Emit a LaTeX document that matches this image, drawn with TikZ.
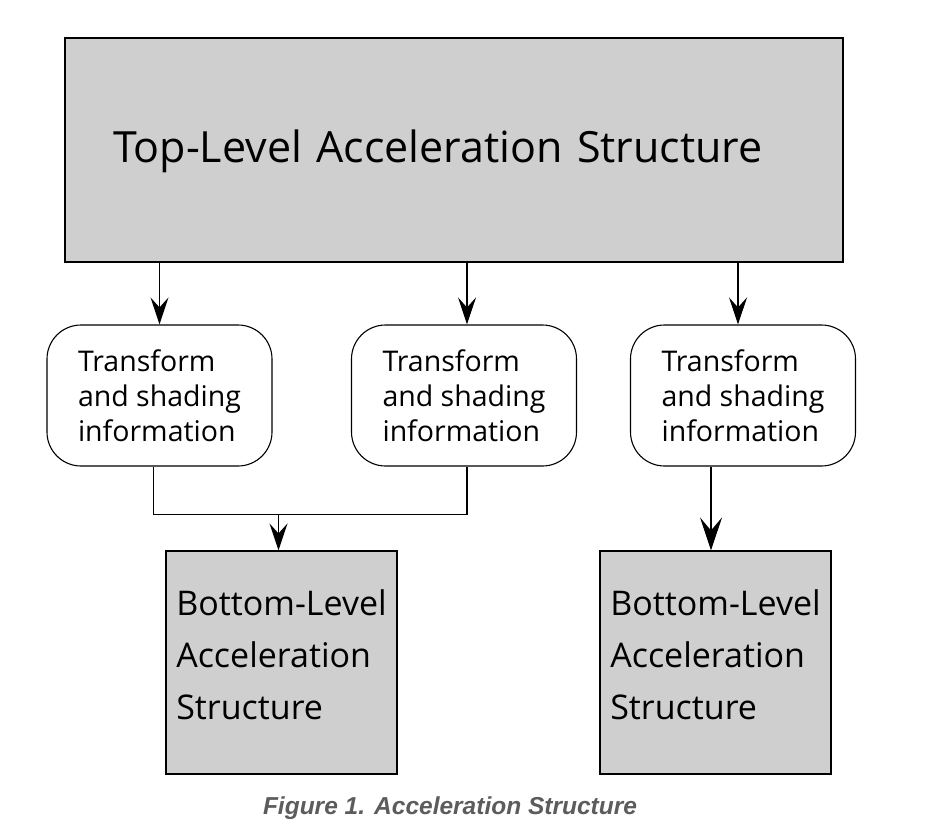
\documentclass[tikz,border=0pt]{standalone}
\usepackage{fontspec}
\setmainfont{Open Sans}
\newfontfamily\capfont{Liberation Sans}
\usetikzlibrary{arrows.meta,calc}
\definecolor{boxgray}{RGB}{207,207,207}
\definecolor{capgray}{RGB}{92,92,92}

\begin{document}
\begin{tikzpicture}[x=1pt,y=-1pt,line width=1.1pt]
\tikzstyle{tlas}=[draw,fill=boxgray,minimum height=224pt,inner xsep=48pt,text width=682pt,align=left,
  text height=36pt,font=\fontsize{43}{50}\selectfont]
\tikzstyle{info}=[draw,rounded corners=34pt,minimum width=225pt,minimum height=141pt,align=left,
  text depth=-12pt,font=\fontsize{28.5}{35}\selectfont]
\tikzstyle{blas}=[draw,fill=boxgray,minimum width=231pt,minimum height=223pt,align=left,
  text depth=16pt,font=\fontsize{34}{52}\selectfont]
\tikzstyle{arr}=[-{Stealth[length=27pt,width=18pt,inset=10pt]}]
\tikzstyle{bigarr}=[-{Stealth[length=33pt,width=22pt,inset=13pt]}]
\useasboundingbox (0,0) rectangle (937,837);
% boxes
\node[tlas] (top) at (454,150) {Top-Level Acceleration Structure};
\node[info] (info1) at (159.5,395.5) {Transform\\and shading\\information};
\node[info] (info2) at (464,395.5) {Transform\\and shading\\information};
\node[info] (info3) at (743,395.5) {Transform\\and shading\\information};
\node[blas] (bot1) at (281.5,662.5) {Bottom-Level\\Acceleration\\Structure};
\node[blas] (bot2) at (715.5,662.5) {Bottom-Level\\Acceleration\\Structure};
\node[font=\capfont\bfseries\itshape\fontsize{24.5}{28}\selectfont,text=capgray] (cap) at (450,808)
  {Figure 1. Acceleration Structure};
% connectors
\coordinate (join) at ($(bot1.north)+(-3,-36)$);
\draw[arr] (info1.north |- top.south) -- (info1.north);
\draw[arr] ($(info2.north |- top.south)+(3,0)$) -- ($(info2.north)+(3,0)$);
\draw[arr] ($(info3.north |- top.south)+(-5,0)$) -- ($(info3.north)+(-5,0)$);
\draw ($(info1.south)+(-6,0)$) |- (join) -| ($(info2.south)+(3,0)$);
\draw[arr] (join) -- (join |- bot1.north);
\draw[bigarr] ($(info3.south)+(-32,0)$) -- ($(info3.south |- bot2.north)+(-32,0)$);
\end{tikzpicture}
\end{document}
